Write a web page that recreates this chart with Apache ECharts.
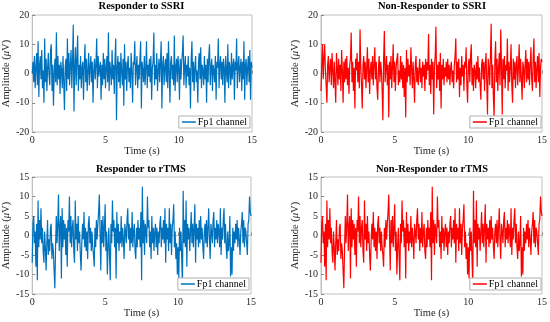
<!DOCTYPE html>
<html><head><meta charset="utf-8">
<script src="https://cdn.jsdelivr.net/npm/echarts@6/dist/echarts.min.js"></script>
<style>html,body{margin:0;padding:0;background:#fff}#c{width:550px;height:322px}</style>
</head><body><div id="c"></div>
<script>
const dt = 0.05; // sample spacing in seconds
const titles = ['Responder to SSRI', 'Non-Responder to SSRI', 'Responder to rTMS', 'Non-Responder to rTMS'];
const legendLabel = 'Fp1 channel';
const xTicks = [0, 5, 10, 15];
const yTicksTop = [-20, -10, 0, 10, 20];
const yTicksBottom = [-15, -10, -5, 0, 5, 10, 15];

const respSSRI = [
0,4,-3,6,-5,2,7,-4,11,-8,3,6,-2,8,-5,1,-10,12,-3,5,
-6,2,7,-1,-4,8,10,-6,3,-11,0,5,-3,14,-4,6,-2,3,-7,4,
1,-5,6,-3,-12.5,2,5,-6,12,-2,7,-4,3,8,-5,4,16.7,-13,2,9,
-4,5,13,-6,3,-2,6,-5,2,4,-9,3,10,-3,5,-6,1,7,-4,2,
6,-3,4,-10,1,5,-2,3,12,-5,6,-1,2,4,-9,3,-4,7,-2,5,
-5,2,6,-3,14,-6,4,1,-4,8,-2,3,-7,5,12,-16,2,6,-3,4,
-5,7,1,-4,5,-11,10,-2,4,-6,3,6,-3,2,-5,7,1,-10,4,3,
11,-4,2,6,-5,3,-2,5,11,-12,4,1,-3,6,-4,2,11,-5,3,-1,
5,-3,6,-9,2,4,14,-4,3,-2,7,-6,1,5,-3,4,11,-12,3,6,
-4,2,5,-3,7,-5,11,1,-10,4,6,-2,3,-4,13,-6,2,5,-3,6,
2,-9,5,-2,4,7,13,-4,2,6,-5,3,-1,6,-4,2,-12,5,11,-3,
4,-6,2,6,-3,1,-10,4,7,-2,9,-5,3,1,-4,6,-2,3,-10,5,
-3,6,10,-4,2,5,-6,3,1,-3,6,-9,4,2,12,-5,3,6,-2,4,
-4,5,2,-10,6,1,-3,10,-5,4,2,-4,7,-2,3,5,-9,4,1,12,
-5,3,6,-3,2,5,-6,4,-2,11,-9,3,5,-4,2,6,-3,8,-9,4,
2];

const nonRespSSRI = [
-6,3,10,-2,5,10,1,-4,-10,3,6,-3,2,5,-4,7,1,-5,4,-3,
-10,7,2,-4,5,-2,3,-6,8,1,-10,4,-3,5,-2,6,-4,2,-7,3,
5,14,-3,4,-6,2,-12,5,1,7,-3,4,-5,15,2,-4,-12,3,6,-2,
4,-5,2,9,-3,5,-7,1,4,-2,6,-4,3,9,-2,4,-5,-9,2,6,
-3,4,1,-6,-16,5,14.5,-3,2,6,-4,3,-15,4,-2,6,-5,2,10,-3,
4,-6,2,5,7,-4,1,-3,6,-2,4,-5,3,-8,2,-15,8,-3,5,-1,
3,-4,9,2,-5,4,-2,-10,3,6,-3,2,-4,1,5,-3,2,-5,4,-1,
3,-6,5,-2,4,1,13.5,-4,3,-7,5,-2,4,-14,2,6,16,-5,3,-2,
4,-6,7,-12,3,-2,5,-4,2,-1,4,-3,5,-2,3,-4,2,4,-3,1,
-5,3,6,12,-3,4,-2,5,-8,2,-4,6,-1,3,-6,4,2,9,-4,-10,
3,5,-3,6,10,-4,2,-6,3,1,-5,4,-2,6,-3,2,-4,-9,3,5,
-2,4,-6,3,7,-3,-14,5,2,-4,6,17,-5,3,-8,-15,4,11,-3,5,
-6,2,7,-4,15,3,-14,5,-2,6,-5,3,1,12,-6,4,-3,2,10,-4,
-10,5,-2,4,-5,3,6,-4,2,10,-3,5,-2,-9,4,2,-5,3,8,-3,
5,-2,4,-4,3,9,-2,-6,5,12,-3,4,-5,2,6,-3,7,-8,2,5,
4];

const rTMS = [
-7,3,5,-2,1,-8,3,-11.5,9,-3,4,-1,7,-2,2,-4,-7,1,-3,-9,
-2,4,-5,-1,-4,2,3,-6,-2,-4,-9,-13.5,-3,5,-2,3,10.5,-4,2,5,
-11,7,-3,4,-1,3,-5,2,-8,4,1,10,-2,5,-3,2,4,-4,-7,9,
-1,3,-4,5,-2,1,-5,-9,-2,3,-1,6,-3,2,-4,1,-6,3,5,-2,
2,-4,1,-3,-5,-8,2,-3,4,-1,3,6,10.5,11,-9,4,-2,5,-3,2,
8,-4,1,-10,-3,2,-5,-11.5,3,-2,9,1,4,-3,2,-11,6,-2,3,-4,
1,-2,5,-3,2,-1,-6,3,1,-2,4,7,-1,3,-4,2,-2,6,-3,1,
3,-4,-6,2,-3,4,-1,2,-3,6,-11.5,12.5,-2,4,-5,3,1,-2,10,2,
4,-3,1,-6,5,-2,2,-4,1,3,-3,2,-5,1,-2,3,5,-3,2,-1,
4,-2,7,-7,3,-1,2,-4,7,-2,3,-5,2,4,8,-3,1,-6,-2,-10,
-3,-11,2,-4,1,-6,-13,11.5,-2,4,-3,9,-8,3,-1,2,-4,1,6,-2,
3,-3,2,8,-7,3,-1,2,-3,4,-2,5,-1,2,-3,-6,1,3,-2,4,
-3,2,7,-1,-6,3,1,-2,4,6,-3,2,-1,4,-2,3,1,-3,7,-5,
2,-1,4,7,-2,3,-3,-6,1,-4,-2,5,-10.5,-3,-10,2,-4,1,-2,3,
-1,4,-3,2,-1,-5,1,3,6,-2,4,-3,2,1,-2,-5,3,4,10,6,
5];

const seriesData = [respSSRI, nonRespSSRI, rTMS, rTMS];
const colors = ['#0072BD', '#FF0000', '#0072BD', '#FF0000'];

const grids = [
  {left: 31, top: 15, width: 221, height: 117},
  {left: 321, top: 15, width: 222, height: 117},
  {left: 31, top: 177, width: 220, height: 117},
  {left: 321, top: 177, width: 222, height: 117}
];
const font = 'Liberation Serif';
const txt = '#262626';

const toPairs = arr => arr.map((v, i) => [+(i * dt).toFixed(2), v]);

const option = {
  animation: false,
  backgroundColor: '#fff',
  title: titles.map((t, i) => ({
    text: t,
    left: grids[i].left + grids[i].width / 2,
    top: i < 2 ? 1 : 164,
    textAlign: 'center',
    padding: 0,
    textStyle: {fontFamily: font, fontWeight: 'bold', fontSize: 10.5, color: '#000'}
  })),
  grid: grids.map(g => Object.assign({show: true, borderColor: '#c0c0c0', borderWidth: 1, backgroundColor: 'transparent'}, g)),
  xAxis: grids.map((g, i) => ({
    type: 'value', gridIndex: i, min: 0, max: 15, interval: 5,
    name: 'Time (s)', nameLocation: 'middle', nameGap: 14,
    nameTextStyle: {fontFamily: font, fontSize: 10.5, color: txt},
    axisLine: {show: true, lineStyle: {color: '#c0c0c0'}},
    axisTick: {show: true, inside: true, length: 3, lineStyle: {color: '#888'}},
    axisLabel: {fontFamily: font, fontSize: 10, color: txt, margin: 3},
    splitLine: {show: false}
  })),
  yAxis: grids.map((g, i) => {
    const ticks = i < 2 ? yTicksTop : yTicksBottom;
    return {
      type: 'value', gridIndex: i,
      min: ticks[0], max: ticks[ticks.length - 1], interval: ticks[1] - ticks[0],
      name: '{a|Amplitude (}{b|μ}{a|V)}', nameLocation: 'middle', nameGap: 13,
      nameTextStyle: {
        rich: {
          a: {fontFamily: font, fontSize: 10.5, color: txt},
          b: {fontFamily: font, fontSize: 10.5, color: txt, fontStyle: 'italic'}
        }
      },
      axisLine: {show: true, lineStyle: {color: '#c0c0c0'}},
      axisTick: {show: true, inside: true, length: 3, lineStyle: {color: '#888'}},
      axisLabel: {fontFamily: font, fontSize: 10, color: txt, margin: 3},
      splitLine: {show: false}
    };
  }),
  legend: grids.map((g, i) => ({
    data: ['s' + i],
    formatter: () => legendLabel,
    right: 550 - (g.left + g.width) + 2,
    top: g.top + g.height - 16,
    orient: 'vertical',
    backgroundColor: '#fff',
    borderColor: '#b0b0b0', borderWidth: 1, borderRadius: 0,
    padding: [1, 3, 1, 3],
    icon: 'rect',
    itemWidth: 14, itemHeight: 1.5, itemGap: 0,
    textStyle: {fontFamily: font, fontSize: 10, color: '#000', padding: [0, 0, 0, -3]},
    selectedMode: false
  })),
  series: seriesData.map((d, i) => ({
    name: 's' + i,
    type: 'line',
    xAxisIndex: i, yAxisIndex: i,
    data: toPairs(d),
    showSymbol: false, symbol: 'none',
    lineStyle: {color: colors[i], width: 1.2},
    itemStyle: {color: colors[i]},
    z: 2
  }))
};

const chart = echarts.init(document.getElementById('c'), null, {renderer: 'canvas'});
chart.setOption(option);
</script>
</body></html>
